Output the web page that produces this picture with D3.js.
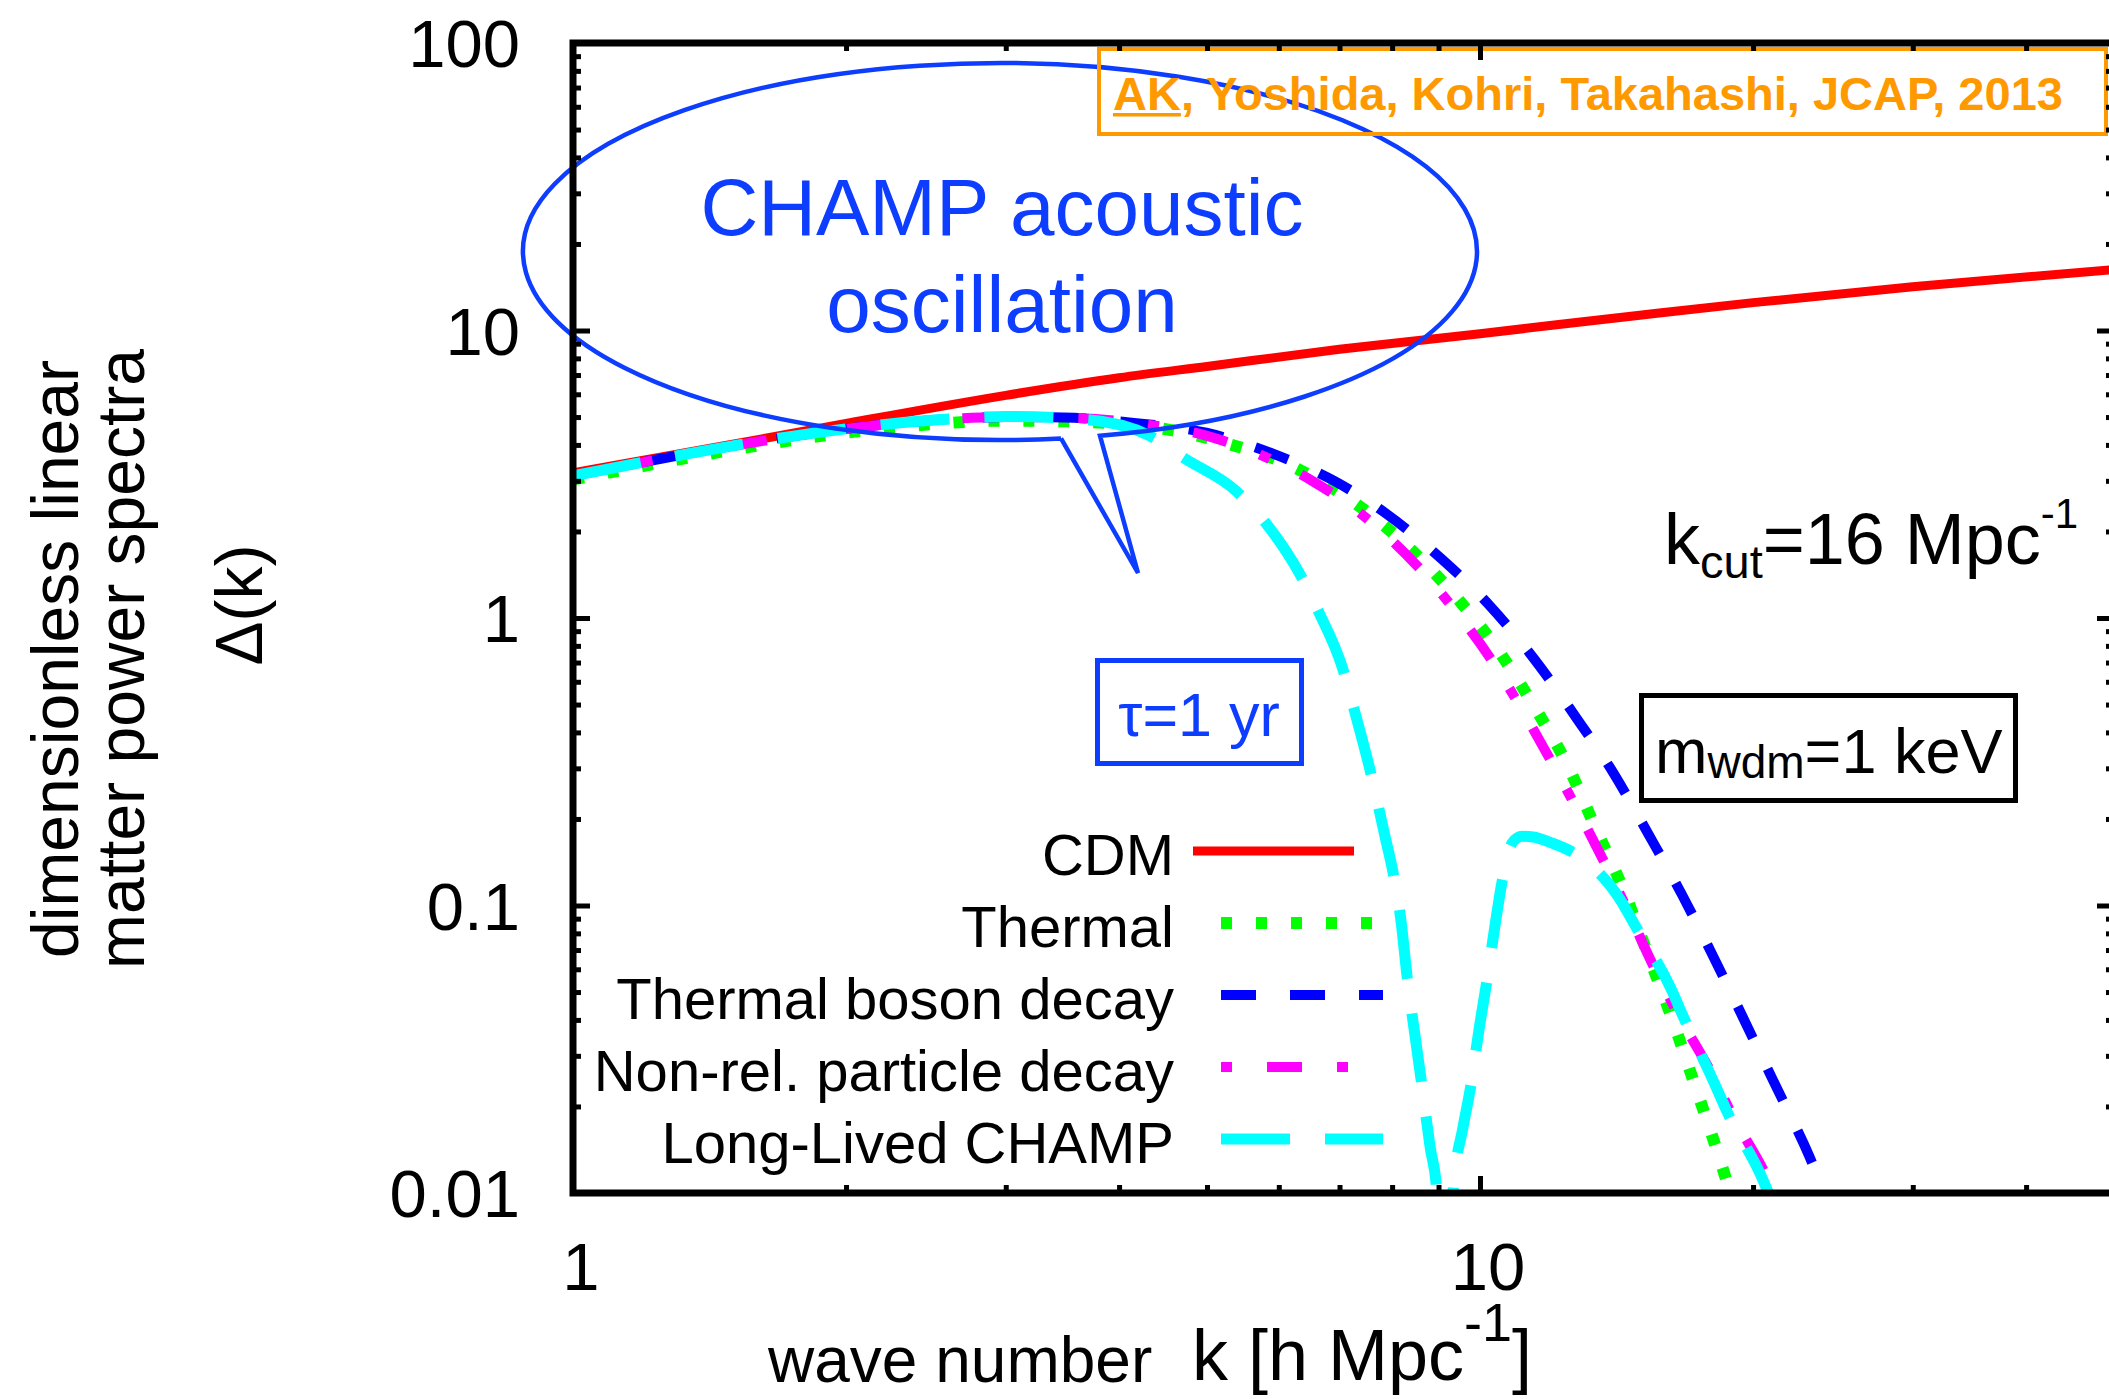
<!DOCTYPE html>
<html>
<head>
<meta charset="utf-8">
<script src="https://cdn.jsdelivr.net/npm/d3@7"></script>
<style>
  html, body { margin: 0; padding: 0; background: #fff; }
  svg { display: block; font-family: "Liberation Sans", Arial, Helvetica, sans-serif; }
</style>
</head>
<body>
<script>
// ---- data ----
var kDomain = [1, 50];
var deltaDomain = [0.01, 100];
var xMajorTicks = [1, 10];
var xTickLabels = ["1", "10"];
var xMinorTicks = [2, 3, 4, 5, 6, 7, 8, 9, 20, 30, 40];
var yMajorTicks = [0.01, 0.1, 1, 10, 100];
var yTickLabels = ["0.01", "0.1", "1", "10", "100"];

var legendLabels = ["CDM", "Thermal", "Thermal boson decay", "Non-rel. particle decay", "Long-Lived CHAMP"];

// [k, Delta(k)]
var cdmSpectrum = [[1, 3.2], [1.5, 4.02], [2, 4.75], [3, 5.95], [4, 6.85], [5, 7.5], [7, 8.6],
  [10, 9.75], [15, 11.3], [20, 12.5], [30, 14.2], [50, 16.3]];

var thermalSpectrum = [[1, 3.03], [1.25, 3.47], [1.5, 3.85], [2, 4.41], [2.5, 4.73], [3, 4.86],
  [3.5, 4.83], [4.46, 4.56], [5.27, 4.04], [6.22, 3.36], [7.24, 2.54], [8.22, 1.84], [9.31, 1.23],
  [10.39, 0.80], [11.44, 0.50], [12.47, 0.31], [13.4, 0.187], [14.38, 0.114], [15.32, 0.0675],
  [16.33, 0.0394], [17.28, 0.0234], [18.27, 0.0139], [18.74, 0.0108], [19.5, 0.0075]];

var bosonDecaySpectrum = [[1, 3.12], [1.25, 3.58], [1.5, 3.97], [2, 4.55], [2.5, 4.88], [3, 5.0],
  [3.47, 4.98], [4.13, 4.78], [4.99, 4.41], [5.91, 3.73], [6.93, 2.98], [7.89, 2.30], [9.06, 1.61],
  [10.26, 1.10], [11.5, 0.714], [12.73, 0.456], [14.06, 0.286], [15.32, 0.178], [16.7, 0.109],
  [18.08, 0.0664], [19.5, 0.0407], [21.05, 0.0246], [22.73, 0.0149], [24.0, 0.0101], [25.0, 0.0078]];

var nonRelDecaySpectrum = [[1, 3.12], [1.25, 3.58], [1.5, 3.97], [2, 4.55], [2.5, 4.88], [3, 5.0],
  [3.5, 4.98], [4.31, 4.7], [4.99, 4.31], [5.72, 3.70], [6.53, 3.0], [7.37, 2.32], [8.54, 1.51],
  [9.38, 1.066], [10.26, 0.726], [11.07, 0.493], [11.91, 0.328], [12.76, 0.2195], [13.64, 0.146],
  [14.57, 0.0953], [15.44, 0.064], [16.54, 0.0417], [17.94, 0.0266], [19.02, 0.0184],
  [20.48, 0.0122], [21.2, 0.0098], [22, 0.0075]];

var champSpectrum = [[1, 3.12], [1.25, 3.58], [1.5, 3.97], [2, 4.55], [2.5, 4.88], [3, 5.02],
  [3.68, 4.9], [4.32, 4.31], [4.73, 3.58], [5.38, 2.77], [5.79, 2.16], [6.33, 1.42], [6.63, 1.06],
  [7.06, 0.664], [7.24, 0.50], [7.56, 0.298], [7.86, 0.173], [8.02, 0.130], [8.18, 0.0891],
  [8.31, 0.0566], [8.50, 0.0333], [8.61, 0.0248], [8.81, 0.01446], [8.96, 0.0102], [9.15, 0.002],
  [9.34, 0.0102], [9.58, 0.017], [9.75, 0.0228], [10.0, 0.039], [10.15, 0.052], [10.41, 0.0891],
  [10.57, 0.12], [10.85, 0.165], [11.13, 0.174], [11.44, 0.173], [12.0, 0.165], [12.66, 0.153],
  [13.22, 0.139], [14.27, 0.105], [14.83, 0.085], [16.28, 0.0505], [16.7, 0.042], [18.16, 0.0238],
  [18.72, 0.0192], [20.51, 0.0111], [20.77, 0.0101], [21.5, 0.008]];

var allSeries = [cdmSpectrum, thermalSpectrum, bosonDecaySpectrum, nonRelDecaySpectrum, champSpectrum];

// ---- styles / layout ----
const SVG_WIDTH = 2109;
const SVG_HEIGHT = 1399;
const PLOT = { left: 573, right: 2114, top: 43, bottom: 1193 };
const ANNOT_BLUE = "#0d3dff";
const ORANGE = "#ff9900";

var lineStyles = [
  { color: "#ff0000", width: 9, dash: null },
  { color: "#00ff00", width: 12, dash: "11 24" },
  { color: "#0000ff", width: 10, dash: "35 34" },
  { color: "#ff00ff", width: 10, dash: "11 35 35 35" },
  { color: "#00ffff", width: 11, dash: "69 35" }
];
var legendLayout = { textRight: 1174, firstY: 851, step: 72,
  lineStart: [1193, 1221, 1221, 1221, 1221], lineEnd: [1354, 1383, 1383, 1383, 1383] };

var x = d3.scaleLog().domain(kDomain).range([PLOT.left, PLOT.right]);
var y = d3.scaleLog().domain(deltaDomain).range([PLOT.bottom, PLOT.top]);

var svg = d3.select("body").append("svg")
  .attr("width", SVG_WIDTH)
  .attr("height", SVG_HEIGHT);

svg.append("rect").attr("width", SVG_WIDTH).attr("height", SVG_HEIGHT).attr("fill", "#fff");

svg.append("clipPath").attr("id", "plotClip")
  .append("rect")
  .attr("x", PLOT.left).attr("y", PLOT.top)
  .attr("width", PLOT.right - PLOT.left).attr("height", PLOT.bottom - PLOT.top);

// curves
var line = d3.line()
  .x(function(d){ return x(d[0]); })
  .y(function(d){ return y(d[1]); })
  .curve(d3.curveMonotoneX);

svg.append("g").attr("clip-path", "url(#plotClip)")
  .selectAll("path")
  .data(allSeries)
  .enter().append("path")
    .attr("d", line)
    .attr("fill", "none")
    .attr("stroke", function(d, i){ return lineStyles[i].color; })
    .attr("stroke-width", function(d, i){ return lineStyles[i].width; })
    .attr("stroke-dasharray", function(d, i){ return lineStyles[i].dash; })
    .attr("stroke-linecap", "butt");

// ---- annotations ----
var ell = { cx: 1000, cy: 251.5, rx: 477, ry: 188.5 };
var wedge = { x0: 1061, x1: 1100, tipX: 1138, tipY: 573 };
function ellipseBottomY(px){
  return ell.cy + ell.ry * Math.sqrt(1 - Math.pow((px - ell.cx) / ell.rx, 2));
}
var wy0 = ellipseBottomY(wedge.x0), wy1 = ellipseBottomY(wedge.x1);
svg.append("path")
  .attr("d", "M" + wedge.x0 + "," + wy0 + "L" + wedge.tipX + "," + wedge.tipY +
    "L" + wedge.x1 + "," + wy1 + "A" + ell.rx + "," + ell.ry + " 0 1 0 " + wedge.x0 + "," + wy0)
  .attr("fill", "none")
  .attr("stroke", ANNOT_BLUE)
  .attr("stroke-width", 4.5)
  .attr("stroke-linejoin", "miter");

svg.append("text").attr("x", 1002).attr("y", 235)
  .attr("text-anchor", "middle").attr("font-size", 80).attr("fill", ANNOT_BLUE)
  .text("CHAMP acoustic");
svg.append("text").attr("x", 1002).attr("y", 332)
  .attr("text-anchor", "middle").attr("font-size", 80).attr("fill", ANNOT_BLUE)
  .text("oscillation");

// tau box
svg.append("rect").attr("x", 1097.5).attr("y", 660.5).attr("width", 204).attr("height", 103)
  .attr("fill", "none").attr("stroke", ANNOT_BLUE).attr("stroke-width", 5);
svg.append("text").attr("x", 1199).attr("y", 736)
  .attr("text-anchor", "middle").attr("font-size", 61).attr("fill", ANNOT_BLUE)
  .text("τ=1 yr");

// m_wdm box
svg.append("rect").attr("x", 1641.5).attr("y", 695.5).attr("width", 374).attr("height", 105)
  .attr("fill", "none").attr("stroke", "#000").attr("stroke-width", 5);
var mText = svg.append("text").attr("x", 1655).attr("y", 773).attr("fill", "#000");
mText.append("tspan").attr("font-size", 63).text("m");
mText.append("tspan").attr("font-size", 46).attr("dy", 5).text("wdm");
mText.append("tspan").attr("font-size", 63).attr("dy", -5).text("=1 keV");

// k_cut
var kText = svg.append("text").attr("x", 1664).attr("y", 564).attr("fill", "#000");
kText.append("tspan").attr("font-size", 72).text("k");
kText.append("tspan").attr("font-size", 47).attr("dy", 14).text("cut");
kText.append("tspan").attr("font-size", 72).attr("dy", -14).text("=16 Mpc");
kText.append("tspan").attr("font-size", 42).attr("dy", -36).text("-1");

// citation box
svg.append("rect").attr("x", 1099).attr("y", 49).attr("width", 1007).attr("height", 85)
  .attr("fill", "none").attr("stroke", ORANGE).attr("stroke-width", 4);
var cite = svg.append("text").attr("x", 1113).attr("y", 110)
  .attr("font-size", 47).attr("font-weight", "bold").attr("fill", ORANGE)
  .text("AK, Yoshida, Kohri, Takahashi, JCAP, 2013");
var akWidth = cite.node().getSubStringLength(0, 2);
svg.append("rect").attr("x", 1113).attr("y", 113).attr("width", akWidth).attr("height", 3.5)
  .attr("fill", ORANGE);

// ---- axes (ticks point inward) ----
var yMinorTicks = [];
[0.01, 0.1, 1, 10].forEach(function(base){
  d3.range(2, 10).forEach(function(m){ yMinorTicks.push(base * m); });
});

function tickGroup(axisFn, scale, values, size, tx, ty){
  var g = svg.append("g")
    .attr("transform", "translate(" + tx + "," + ty + ")")
    .call(axisFn(scale).tickValues(values).tickSize(-size).tickFormat(""));
  g.select(".domain").remove();
  g.selectAll(".tick line").attr("stroke", "#000").attr("stroke-width", 5);
  return g;
}
tickGroup(d3.axisBottom, x, xMajorTicks, 17, 0, PLOT.bottom);
tickGroup(d3.axisBottom, x, xMinorTicks, 8, 0, PLOT.bottom);
tickGroup(d3.axisTop, x, xMajorTicks, 17, 0, PLOT.top);
tickGroup(d3.axisTop, x, xMinorTicks, 8, 0, PLOT.top);
tickGroup(d3.axisLeft, y, yMajorTicks, 17, PLOT.left, 0);
tickGroup(d3.axisLeft, y, yMinorTicks, 8, PLOT.left, 0);
tickGroup(d3.axisRight, y, yMajorTicks, 17, PLOT.right, 0);
tickGroup(d3.axisRight, y, yMinorTicks, 8, PLOT.right, 0);

svg.append("rect")
  .attr("x", PLOT.left).attr("y", PLOT.top)
  .attr("width", PLOT.right - PLOT.left).attr("height", PLOT.bottom - PLOT.top)
  .attr("fill", "none").attr("stroke", "#000").attr("stroke-width", 7);

// tick labels
svg.append("g").selectAll("text")
  .data(yMajorTicks)
  .enter().append("text")
    .attr("x", 520)
    .attr("y", function(d){ return y(d) + 24; })
    .attr("text-anchor", "end")
    .attr("font-size", 67)
    .text(function(d, i){ return yTickLabels[i]; });

svg.append("g").selectAll("text")
  .data(xMajorTicks)
  .enter().append("text")
    .attr("x", function(d){ return x(d) + 8; })
    .attr("y", 1290)
    .attr("text-anchor", "middle")
    .attr("font-size", 67)
    .text(function(d, i){ return xTickLabels[i]; });

// axis titles
svg.append("text").attr("x", 768).attr("y", 1382).attr("font-size", 64).text("wave number");
var xt = svg.append("text").attr("x", 1192).attr("y", 1380).attr("font-size", 72);
xt.append("tspan").text("k [h Mpc");
xt.append("tspan").attr("font-size", 54).attr("dy", -39).text("-1");
xt.append("tspan").attr("dy", 39).text("]");

var yTitles = [
  { text: "dimensionless linear", bx: 78, cy: 659 },
  { text: "matter power spectra", bx: 144, cy: 659 },
  { text: "Δ(k)", bx: 262, cy: 605 }
];
svg.append("g").selectAll("text")
  .data(yTitles)
  .enter().append("text")
    .attr("transform", function(d){ return "translate(" + d.bx + "," + d.cy + ") rotate(-90)"; })
    .attr("text-anchor", "middle")
    .attr("font-size", 66)
    .text(function(d){ return d.text; });

// ---- legend ----
var legend = svg.append("g").selectAll("g")
  .data(legendLabels)
  .enter().append("g");
legend.append("text")
  .attr("x", legendLayout.textRight)
  .attr("y", function(d, i){ return legendLayout.firstY + i * legendLayout.step + 24; })
  .attr("text-anchor", "end")
  .attr("font-size", 58)
  .text(function(d){ return d; });
legend.append("line")
  .attr("x1", function(d, i){ return legendLayout.lineStart[i]; })
  .attr("x2", function(d, i){ return legendLayout.lineEnd[i]; })
  .attr("y1", function(d, i){ return legendLayout.firstY + i * legendLayout.step; })
  .attr("y2", function(d, i){ return legendLayout.firstY + i * legendLayout.step; })
  .attr("stroke", function(d, i){ return lineStyles[i].color; })
  .attr("stroke-width", function(d, i){ return lineStyles[i].width; })
  .attr("stroke-dasharray", function(d, i){ return lineStyles[i].dash; });
</script>
</body>
</html>
